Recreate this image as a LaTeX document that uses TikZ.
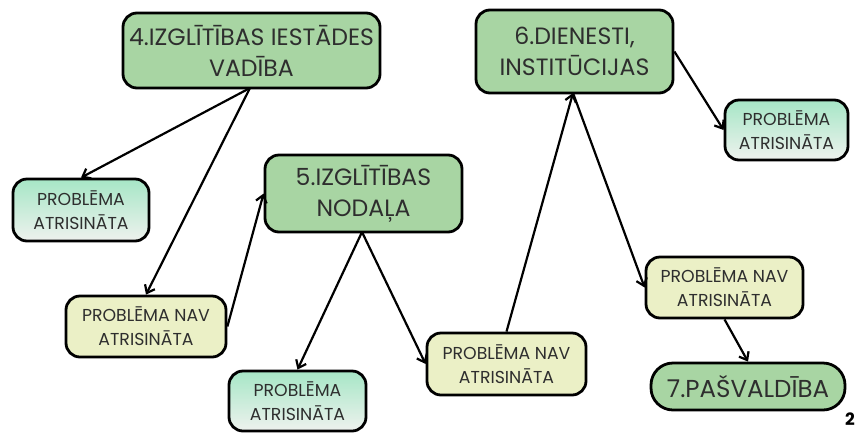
\documentclass[tikz,border=0pt]{standalone}
\usepackage{fontspec}
\setmainfont{Poppins}
\usetikzlibrary{arrows.meta}
\definecolor{bigfill}{HTML}{A8D5A3}
\definecolor{mintTop}{HTML}{A6E6C6}
\definecolor{mintBot}{HTML}{EEF2EE}
\definecolor{yelfill}{HTML}{EBF0C6}
\definecolor{txt}{HTML}{2E2E2E}
\tikzset{
  box/.style={draw=black, line width=2.8pt, rounded corners=14pt, align=center, inner sep=0pt, text=txt},
  bigbox/.style={box, fill=bigfill, font=\fontsize{23.6}{31}\selectfont},
  solved/.style={box, top color=mintTop, bottom color=mintBot, font=\fontsize{17.3}{24}\selectfont},
  unsolved/.style={box, fill=yelfill, font=\fontsize{17.3}{24}\selectfont},
  conn/.style={line width=2.2pt, -{Straight Barb[length=7pt,width=11pt,line width=2.2pt]}}
}
\begin{document}
\begin{tikzpicture}[x=1pt,y=-1pt]
\useasboundingbox (0,0) rectangle (859,432);
\node[bigbox, minimum width=257pt, minimum height=75pt] (b4) at (251.5,50.5) {4.IZGLĪTĪBAS IESTĀDES\\VADĪBA};
\node[bigbox, minimum width=197pt, minimum height=83pt] (b6) at (574.5,51.5) {6.DIENESTI,\\INSTITŪCIJAS};
\node[bigbox, minimum width=197pt, minimum height=77pt] (b5) at (363.5,193.5) {5.IZGLĪTĪBAS\\NODAĻA};
\node[bigbox, minimum width=194pt, minimum height=47pt, rounded corners=22pt, font=\fontsize{24.5}{30}\selectfont] (b7) at (748,386.5) {7.PAŠVALDĪBA};
\node[solved, minimum width=136pt, minimum height=62pt] (s1) at (81,210) {PROBLĒMA\\ATRISINĀTA};
\node[solved, minimum width=123pt, minimum height=60pt] (s2) at (786.5,130) {PROBLĒMA\\ATRISINĀTA};
\node[solved, minimum width=137pt, minimum height=60pt] (s3) at (297.5,401) {PROBLĒMA\\ATRISINĀTA};
\node[unsolved, minimum width=160pt, minimum height=61pt] (u1) at (146,326.5) {PROBLĒMA NAV\\ATRISINĀTA};
\node[unsolved, minimum width=159pt, minimum height=62pt] (u2) at (506.5,364) {PROBLĒMA NAV\\ATRISINĀTA};
\node[unsolved, minimum width=157pt, minimum height=61pt] (u3) at (724.5,287.5) {PROBLĒMA NAV\\ATRISINĀTA};
\node[font=\bfseries\fontsize{17}{19}\selectfont, anchor=center, text=black, inner sep=0pt] (pg) at (850,419) {2};
\coordinate (b4o) at (250,88);
\coordinate (b5o) at (362,232);
\coordinate (b6o) at (573,93);
\draw[conn] (b4o) -- (s1.north);
\draw[conn] (b4o) -- (u1.north);
\draw[conn] (u1.east) -- (b5.west);
\draw[conn] (b5o) -- (s3.north);
\draw[conn] (b5o) -- (u2.west);
\draw[conn] (u2.north) -- (b6o);
\draw[conn] (b6o) -- (u3.west);
\draw[conn] (b6.east) -- (s2.west);
\draw[conn] (u3.south) -- (b7.north);
\end{tikzpicture}
\end{document}
